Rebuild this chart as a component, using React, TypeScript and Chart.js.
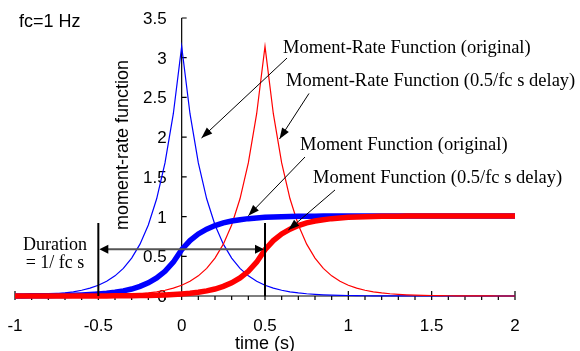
import React, { useEffect, useRef } from "react";
import { Chart, registerables } from "chart.js";

Chart.register(...registerables);

// time samples (s)
const times = [
  -1.0, -0.95, -0.9, -0.85, -0.8, -0.75, -0.7, -0.65, -0.6, -0.55,
  -0.5, -0.45, -0.4, -0.35, -0.3, -0.25, -0.2, -0.15, -0.1, -0.05,
  0.0, 0.05, 0.1, 0.15, 0.2, 0.25, 0.3, 0.35, 0.4, 0.45,
  0.5, 0.55, 0.6, 0.65, 0.7, 0.75, 0.8, 0.85, 0.9, 0.95,
  1.0, 1.05, 1.1, 1.15, 1.2, 1.25, 1.3, 1.35, 1.4, 1.45,
  1.5, 1.55, 1.6, 1.65, 1.7, 1.75, 1.8, 1.85, 1.9, 1.95, 2.0,
];

// moment-rate function (original)
const rateOriginal = [
  0.006, 0.008, 0.011, 0.015, 0.021, 0.028, 0.039, 0.053, 0.072, 0.099,
  0.136, 0.186, 0.254, 0.348, 0.477, 0.653, 0.894, 1.224, 1.676, 2.295,
  3.142, 2.295, 1.676, 1.224, 0.894, 0.653, 0.477, 0.348, 0.254, 0.186,
  0.136, 0.099, 0.072, 0.053, 0.039, 0.028, 0.021, 0.015, 0.011, 0.008,
  0.006, 0.004, 0.003, 0.002, 0.002, 0.001, 0.001, 0.001, 0, 0,
  0, 0, 0, 0, 0, 0, 0, 0, 0, 0, 0,
];

// moment-rate function (0.5/fc s delay)
const rateDelayed = [
  0, 0, 0, 0.001, 0.001, 0.001, 0.002, 0.002, 0.003, 0.004,
  0.006, 0.008, 0.011, 0.015, 0.021, 0.028, 0.039, 0.053, 0.072, 0.099,
  0.136, 0.186, 0.254, 0.348, 0.477, 0.653, 0.894, 1.224, 1.676, 2.295,
  3.142, 2.295, 1.676, 1.224, 0.894, 0.653, 0.477, 0.348, 0.254, 0.186,
  0.136, 0.099, 0.072, 0.053, 0.039, 0.028, 0.021, 0.015, 0.011, 0.008,
  0.006, 0.004, 0.003, 0.002, 0.002, 0.001, 0.001, 0.001, 0, 0, 0,
];

// moment function (original)
const momentOriginal = [
  0.001, 0.001, 0.002, 0.003, 0.004, 0.005, 0.007, 0.01, 0.013, 0.018,
  0.025, 0.034, 0.047, 0.065, 0.088, 0.121, 0.166, 0.227, 0.311, 0.426,
  0.583, 0.697, 0.781, 0.842, 0.887, 0.92, 0.944, 0.961, 0.974, 0.983,
  0.99, 0.995, 0.998, 1.001, 1.003, 1.004, 1.005, 1.006, 1.007, 1.007,
  1.007, 1.007, 1.007, 1.007, 1.007, 1.007, 1.008, 1.008, 1.008, 1.008,
  1.008, 1.008, 1.008, 1.008, 1.008, 1.008, 1.008, 1.008, 1.008, 1.008, 1.008,
];

// moment function (0.5/fc s delay)
const momentDelayed = [
  0, 0, 0, 0, 0, 0, 0, 0.001, 0.001, 0.001,
  0.001, 0.001, 0.002, 0.003, 0.004, 0.005, 0.007, 0.01, 0.013, 0.018,
  0.025, 0.034, 0.047, 0.065, 0.088, 0.121, 0.166, 0.227, 0.311, 0.426,
  0.583, 0.697, 0.781, 0.842, 0.887, 0.92, 0.944, 0.961, 0.974, 0.983,
  0.99, 0.995, 0.998, 1.001, 1.003, 1.004, 1.005, 1.006, 1.007, 1.007,
  1.007, 1.007, 1.007, 1.007, 1.007, 1.007, 1.008, 1.008, 1.008, 1.008, 1.008,
];

const xTicks = [-1, -0.5, 0, 0.5, 1, 1.5, 2];
const xTickLabels = ["-1", "-0.5", "0", "0.5", "1", "1.5", "2"];
const yTicks = [0, 0.5, 1, 1.5, 2, 2.5, 3, 3.5];
const yTickLabels = ["0", "0.5", "1", "1.5", "2", "2.5", "3", "3.5"];

const xTitle = "time (s)";
const yTitle = "moment-rate function";
const cornerLabel = "fc=1 Hz";

// annotations in data coordinates
const noteTexts = [
  "Moment-Rate Function (original)",
  "Moment-Rate Function (0.5/fc s delay)",
  "Moment Function (original)",
  "Moment Function (0.5/fc s delay)",
];
const noteX = [0.608, 0.626, 0.71, 0.788];
const noteY = [3.059, 2.644, 1.838, 1.423];
const arrowFromX = [0.632, 0.764, 0.74, 0.92];
const arrowFromY = [2.996, 2.55, 1.75, 1.335];
const arrowToX = [0.119, 0.587, 0.4, 0.64];
const arrowToY = [1.989, 1.977, 1.011, 0.831];

const durationStart = -0.5;
const durationEnd = 0.5;
const durationTop = 0.92;
const durationArrowY = 0.59;
const durationLines = ["Duration", "= 1/ fc s"];
const durationTextX = -0.76;
const durationTextY = [0.579, 0.35];

const SANS = '"Liberation Sans", Arial, Helvetica, sans-serif';
const SERIF = '"Liberation Serif", "Times New Roman", serif';

function arrowHead(ctx: CanvasRenderingContext2D, x1: number, y1: number, x2: number, y2: number, len: number, half: number) {
  const a = Math.atan2(y2 - y1, x2 - x1);
  const bx = x2 - len * Math.cos(a);
  const by = y2 - len * Math.sin(a);
  ctx.beginPath();
  ctx.moveTo(x2, y2);
  ctx.lineTo(bx + half * Math.sin(a), by - half * Math.cos(a));
  ctx.lineTo(bx - half * Math.sin(a), by + half * Math.cos(a));
  ctx.closePath();
  ctx.fill();
}

const axesPlugin = {
  id: "customAxes",
  beforeDatasetsDraw(chart: any) {
    const { ctx, scales } = chart;
    const xs = scales.x;
    const ys = scales.y;
    const x0 = xs.getPixelForValue(0);
    const y0 = ys.getPixelForValue(0);
    ctx.save();
    ctx.strokeStyle = "#000";
    ctx.lineWidth = 1.2;
    ctx.beginPath();
    ctx.moveTo(xs.getPixelForValue(-1), y0);
    ctx.lineTo(xs.getPixelForValue(2), y0);
    // minor ticks every 0.1
    for (let i = 0; i <= 30; i++) {
      const px = xs.getPixelForValue(-1 + i * 0.1);
      ctx.moveTo(px, y0);
      ctx.lineTo(px, y0 + 4);
    }
    xTicks.forEach((v) => {
      const px = xs.getPixelForValue(v);
      ctx.moveTo(px, y0 - 5);
      ctx.lineTo(px, y0 + 4);
    });
    ctx.moveTo(x0, ys.getPixelForValue(0));
    ctx.lineTo(x0, ys.getPixelForValue(3.5));
    yTicks.forEach((v) => {
      const py = ys.getPixelForValue(v);
      ctx.moveTo(x0, py);
      ctx.lineTo(x0 + 5, py);
    });
    ctx.stroke();

    ctx.fillStyle = "#000";
    ctx.font = "17px " + SANS;
    ctx.textBaseline = "alphabetic";
    ctx.textAlign = "center";
    xTicks.forEach((v, i) => {
      ctx.fillText(xTickLabels[i], xs.getPixelForValue(v), y0 + 35);
    });
    ctx.textAlign = "right";
    yTicks.forEach((v, i) => {
      ctx.fillText(yTickLabels[i], x0 - 15, ys.getPixelForValue(v) + 6);
    });

    ctx.font = "18px " + SANS;
    ctx.textAlign = "center";
    ctx.fillText(xTitle, xs.getPixelForValue(0.5), y0 + 53);
    ctx.textAlign = "left";
    ctx.fillText(cornerLabel, 19, 27);

    ctx.save();
    ctx.translate(128, 145);
    ctx.rotate(-Math.PI / 2);
    ctx.textAlign = "center";
    ctx.fillText(yTitle, 0, 0);
    ctx.restore();
    ctx.restore();
  },
};

const notesPlugin = {
  id: "notes",
  afterDatasetsDraw(chart: any) {
    const { ctx, scales } = chart;
    const xs = scales.x;
    const ys = scales.y;
    ctx.save();
    // duration markers
    ctx.strokeStyle = "#000";
    ctx.lineWidth = 2;
    ctx.beginPath();
    [durationStart, durationEnd].forEach((v) => {
      const px = xs.getPixelForValue(v);
      ctx.moveTo(px, ys.getPixelForValue(0));
      ctx.lineTo(px, ys.getPixelForValue(durationTop));
    });
    ctx.stroke();
    const ay = ys.getPixelForValue(durationArrowY);
    const ax1 = xs.getPixelForValue(durationStart) + 1;
    const ax2 = xs.getPixelForValue(durationEnd) - 1;
    ctx.strokeStyle = "#555";
    ctx.lineWidth = 2;
    ctx.beginPath();
    ctx.moveTo(ax1 + 6, ay);
    ctx.lineTo(ax2 - 6, ay);
    ctx.stroke();
    ctx.fillStyle = "#000";
    arrowHead(ctx, ax2, ay, ax1, ay, 9, 4.5);
    arrowHead(ctx, ax1, ay, ax2, ay, 9, 4.5);

    ctx.font = "18px " + SERIF;
    ctx.textAlign = "center";
    ctx.textBaseline = "alphabetic";
    durationLines.forEach((t, i) => {
      ctx.fillText(t, xs.getPixelForValue(durationTextX), ys.getPixelForValue(durationTextY[i]));
    });

    // callouts
    ctx.strokeStyle = "#000";
    ctx.lineWidth = 1;
    for (let i = 0; i < noteTexts.length; i++) {
      const fx = xs.getPixelForValue(arrowFromX[i]);
      const fy = ys.getPixelForValue(arrowFromY[i]);
      const tx = xs.getPixelForValue(arrowToX[i]);
      const ty = ys.getPixelForValue(arrowToY[i]);
      ctx.beginPath();
      ctx.moveTo(fx, fy);
      ctx.lineTo(tx, ty);
      ctx.stroke();
      arrowHead(ctx, fx, fy, tx, ty, 11, 4);
    }
    ctx.font = "18.5px " + SERIF;
    ctx.textAlign = "left";
    noteTexts.forEach((t, i) => {
      ctx.fillText(t, xs.getPixelForValue(noteX[i]), ys.getPixelForValue(noteY[i]));
    });
    ctx.restore();
  },
};

function toPoints(vals: number[]) {
  return times.map((t, i) => ({ x: t, y: vals[i] }));
}

export default function App() {
  const canvasRef = useRef<HTMLCanvasElement | null>(null);

  useEffect(() => {
    if (!canvasRef.current) return;
    const chart = new Chart(canvasRef.current, {
      type: "line",
      data: {
        datasets: [
          {
            label: "Moment Function (0.5/fc s delay)",
            data: toPoints(momentDelayed),
            borderColor: "#ff0000",
            borderWidth: 5.5,
          },
          {
            label: "Moment Function (original)",
            data: toPoints(momentOriginal),
            borderColor: "#0000ff",
            borderWidth: 5.5,
          },
          {
            label: "Moment-Rate Function (0.5/fc s delay)",
            data: toPoints(rateDelayed),
            borderColor: "#ff0000",
            borderWidth: 1.2,
          },
          {
            label: "Moment-Rate Function (original)",
            data: toPoints(rateOriginal),
            borderColor: "#0000ff",
            borderWidth: 1.2,
          },
        ].map((d) => ({ ...d, pointRadius: 0, tension: 0, fill: false, clip: 8 })),
      },
      options: {
        animation: false,
        responsive: false,
        maintainAspectRatio: false,
        devicePixelRatio: 1,
        layout: { padding: { left: 15, right: 65, top: 18, bottom: 55 } },
        plugins: { legend: { display: false }, tooltip: { enabled: false } },
        scales: {
          x: { type: "linear", min: -1, max: 2, display: false },
          y: { type: "linear", min: 0, max: 3.5, display: false },
        },
      },
      plugins: [axesPlugin, notesPlugin],
    } as any);
    return () => chart.destroy();
  }, []);

  return (
    <div style={{ position: "absolute", left: 0, top: 0, width: 580, height: 351, background: "#fff" }}>
      <canvas ref={canvasRef} width={580} height={351} style={{ display: "block", width: 580, height: 351 }} />
    </div>
  );
}
